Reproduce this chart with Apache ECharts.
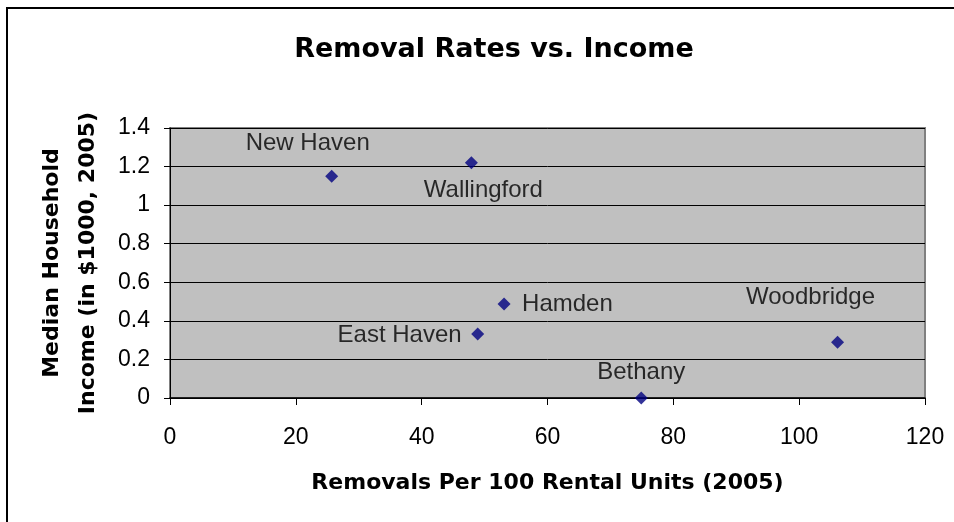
<!DOCTYPE html>
<html><head><meta charset="utf-8">
<script src="https://cdn.jsdelivr.net/npm/echarts@6/dist/echarts.min.js"></script>
<style>html,body{margin:0;padding:0;background:#fff}#c{width:954px;height:522px}</style>
</head><body><div id="c"></div>
<script>
const towns = ['New Haven','Wallingford','Hamden','East Haven','Bethany','Woodbridge'];
const removals = [25.7, 47.9, 53.1, 48.9, 74.9, 106.1];
const income = [1.15, 1.22, 0.487, 0.332, 0.0, 0.289];
const xTicks = [0,20,40,60,80,100,120];
const yTicks = [0,0.2,0.4,0.6,0.8,1,1.2,1.4];

// label placement (style, not data)
const labelStyle = {
  'New Haven': {align:'center', offset:[-24,-33]},
  'Wallingford': {align:'center', offset:[12,28]},
  'Hamden': {align:'left', offset:[18,0]},
  'East Haven': {align:'right', offset:[-16,1]},
  'Bethany': {align:'center', offset:[0,-26]},
  'Woodbridge': {align:'center', offset:[-27,-45]}
};

const font = 'Arial, "Liberation Sans", sans-serif';
const boldFont = '"DejaVu Sans", Arial, sans-serif';
const data = towns.map((t,i)=>({
  value:[removals[i], income[i]],
  name:t,
  label:{show:true, position:'inside', formatter:t, align:labelStyle[t].align, verticalAlign:'middle',
         offset:labelStyle[t].offset, color:'#000', fontSize:24, fontFamily:font}
}));

const chart = echarts.init(document.getElementById('c'), null, {renderer:'canvas'});
chart.setOption({
  animation:false,
  backgroundColor:'#fff',
  graphic:[{type:'rect', shape:{x:7,y:8,width:1000,height:600}, style:{fill:'none', stroke:'#000', lineWidth:2}, z:-10}],
  title:{text:'Removal Rates vs. Income', left:489, top:31, textAlign:'center',
    textStyle:{fontFamily:boldFont, fontSize:27, fontWeight:'bold', color:'#000'}},
  grid:{left:170, right:29, top:128, bottom:124, show:true, backgroundColor:'#c0c0c0', borderColor:'#808080', borderWidth:2},
  xAxis:{type:'value', min:xTicks[0], max:xTicks[xTicks.length-1], interval:20,
    name:'Removals Per 100 Rental Units (2005)', nameLocation:'middle', nameGap:74,
    nameTextStyle:{fontFamily:boldFont, fontSize:22, fontWeight:'bold', color:'#000'},
    axisLine:{show:true, onZero:false, lineStyle:{color:'#000', width:1.5}},
    axisTick:{show:true, length:7, lineStyle:{color:'#000'}},
    axisLabel:{margin:28, fontFamily:font, fontSize:23, color:'#000'},
    splitLine:{show:false}},
  yAxis:{type:'value', min:yTicks[0], max:yTicks[yTicks.length-1], interval:0.2,
    name:'Median Household\nIncome (in $1000, 2005)', nameLocation:'middle', nameGap:64, nameRotate:90,
    nameTextStyle:{fontFamily:boldFont, fontSize:22, fontWeight:'bold', color:'#000', lineHeight:36},
    axisLine:{show:true, lineStyle:{color:'#000', width:1}},
    axisTick:{show:true, length:6, lineStyle:{color:'#000'}},
    axisLabel:{margin:20, fontFamily:font, fontSize:23, color:'#000',
      formatter:v=>String(Math.round(v*10)/10)},
    splitLine:{show:true, lineStyle:{color:'#000', width:1}}},
  series:[{type:'scatter', symbol:'diamond', symbolSize:13, itemStyle:{color:'#000080'}, data:data}]
});
</script></body></html>
